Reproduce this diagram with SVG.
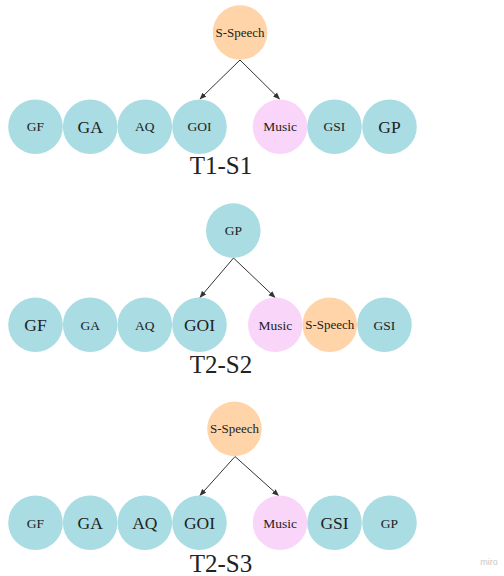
<svg xmlns="http://www.w3.org/2000/svg" width="504" height="576" viewBox="0 0 504 576">
<style>
.t{fill:#a9dce3}.o{fill:#fed4a8}.p{fill:#f9d6f9}
.n text,.title{font-family:'Liberation Serif','DejaVu Serif','Times New Roman',serif;fill:#222;text-anchor:middle}
.s{font-size:13.5px}.l{font-size:17.5px}.sp{font-size:13px}
.title{font-size:25px}
.e{stroke:#333;stroke-width:1;fill:none;marker-end:url(#ah)}
.miro{font-family:'Liberation Sans',Arial,sans-serif;font-size:9px;fill:#c8c8c8;text-anchor:middle}
</style>
<defs>
<marker id="ah" viewBox="0 0 10 10" refX="9" refY="5" markerWidth="7" markerHeight="7" orient="auto" markerUnits="userSpaceOnUse">
<path d="M0,1 L10,5 L0,9 Z" fill="#333"/>
</marker>
</defs>
<rect width="504" height="576" fill="#fff"/>
<g id="connectors">
<line class="e" x1="240" y1="60" x2="200" y2="99"/>
<line class="e" x1="240" y1="60" x2="279.5" y2="99"/>
<line class="e" x1="233.5" y1="258" x2="200" y2="297.5"/>
<line class="e" x1="233.5" y1="258" x2="275" y2="297.5"/>
<line class="e" x1="235" y1="456.5" x2="200" y2="495.5"/>
<line class="e" x1="235" y1="456.5" x2="278.5" y2="495.5"/>
</g>
<g font-family="Liberation Serif, DejaVu Serif, serif">
<g class="n" id="s1-sspeech"><circle class="o" cx="240" cy="32.5" r="27.3"/><text class="sp" x="240" y="37">S-Speech</text></g>
<g class="n" id="s1-gf"><circle class="t" cx="35.5" cy="126.7" r="27.3"/><text class="s" x="35.5" y="131.4">GF</text></g>
<g class="n" id="s1-ga"><circle class="t" cx="90.2" cy="126.7" r="27.3"/><text class="l" x="90.2" y="132.8">GA</text></g>
<g class="n" id="s1-aq"><circle class="t" cx="144.8" cy="126.7" r="27.3"/><text class="s" x="144.8" y="131.4">AQ</text></g>
<g class="n" id="s1-goi"><circle class="t" cx="199.5" cy="126.7" r="27.3"/><text class="s" x="199.5" y="131.4">GOI</text></g>
<g class="n" id="s1-music"><circle class="p" cx="280" cy="126.7" r="27.3"/><text class="s" x="280" y="131.4">Music</text></g>
<g class="n" id="s1-gsi"><circle class="t" cx="334.5" cy="126.7" r="27.3"/><text class="s" x="334.5" y="131.4">GSI</text></g>
<g class="n" id="s1-gp"><circle class="t" cx="389.5" cy="126.7" r="27.3"/><text class="l" x="389.5" y="132.8">GP</text></g>
<text class="title" x="221" y="174">T1-S1</text>
<g class="n" id="s2-gp"><circle class="t" cx="233.3" cy="230.6" r="27.3"/><text class="s" x="233.3" y="235.3">GP</text></g>
<g class="n" id="s2-gf"><circle class="t" cx="35.5" cy="324.8" r="27.3"/><text class="l" x="35.5" y="330.9">GF</text></g>
<g class="n" id="s2-ga"><circle class="t" cx="90.2" cy="324.8" r="27.3"/><text class="s" x="90.2" y="329.5">GA</text></g>
<g class="n" id="s2-aq"><circle class="t" cx="144.8" cy="324.8" r="27.3"/><text class="s" x="144.8" y="329.5">AQ</text></g>
<g class="n" id="s2-goi"><circle class="t" cx="199.5" cy="324.8" r="27.3"/><text class="l" x="199.5" y="330.9">GOI</text></g>
<g class="n" id="s2-music"><circle class="p" cx="275.3" cy="324.8" r="27.3"/><text class="s" x="275.3" y="329.5">Music</text></g>
<g class="n" id="s2-sspeech"><circle class="o" cx="329.8" cy="324.8" r="27.3"/><text class="sp" x="329.8" y="329.3">S-Speech</text></g>
<g class="n" id="s2-gsi"><circle class="t" cx="384.5" cy="324.8" r="27.3"/><text class="s" x="384.5" y="329.5">GSI</text></g>
<text class="title" x="221" y="372.5">T2-S2</text>
<g class="n" id="s3-sspeech"><circle class="o" cx="234.5" cy="428.9" r="27.3"/><text class="sp" x="234.5" y="433.4">S-Speech</text></g>
<g class="n" id="s3-gf"><circle class="t" cx="35.5" cy="522.8" r="27.3"/><text class="s" x="35.5" y="527.5">GF</text></g>
<g class="n" id="s3-ga"><circle class="t" cx="90.2" cy="522.8" r="27.3"/><text class="l" x="90.2" y="528.9">GA</text></g>
<g class="n" id="s3-aq"><circle class="t" cx="144.8" cy="522.8" r="27.3"/><text class="l" x="144.8" y="528.9">AQ</text></g>
<g class="n" id="s3-goi"><circle class="t" cx="199.5" cy="522.8" r="27.3"/><text class="l" x="199.5" y="528.9">GOI</text></g>
<g class="n" id="s3-music"><circle class="p" cx="280" cy="522.8" r="27.3"/><text class="s" x="280" y="527.5">Music</text></g>
<g class="n" id="s3-gsi"><circle class="t" cx="334.5" cy="522.8" r="27.3"/><text class="l" x="334.5" y="528.9">GSI</text></g>
<g class="n" id="s3-gp"><circle class="t" cx="389.5" cy="522.8" r="27.3"/><text class="s" x="389.5" y="527.5">GP</text></g>
<text class="title" x="221" y="572">T2-S3</text>
</g>
<text class="miro" x="489" y="565">miro</text>
</svg>
